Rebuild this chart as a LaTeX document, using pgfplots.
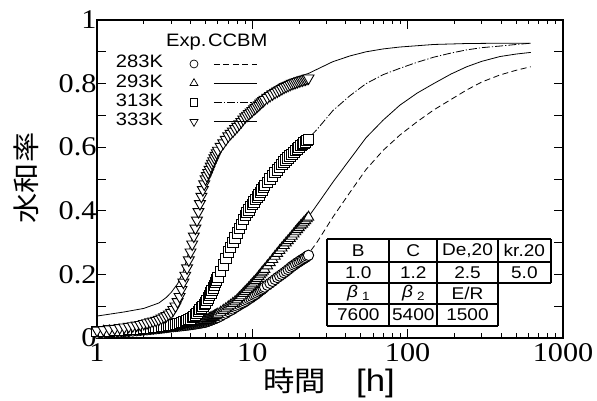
\documentclass[border=0pt]{standalone}
\usepackage{pgfplots}
\pgfplotsset{compat=1.18}
\usepackage{pgfplotstable}
\usepackage{fontspec}
\setmainfont{Liberation Serif}[FakeStretch=1.12]
\newfontfamily\arial{Liberation Sans}[FakeStretch=1.12]
\newfontfamily\jp{Noto Sans CJK JP}[FakeStretch=1.12]

% experimental data (Exp.), 283K
\pgfplotstableread{
t v
1.0 0.015
1.1 0.016
1.2 0.017
1.3 0.018
1.4 0.019
1.5 0.020
1.6 0.021
1.7 0.022
1.8 0.023
1.9 0.024
2.0 0.025
2.1 0.026
2.2 0.027
2.3 0.028
2.4 0.029
2.5 0.030
2.6 0.031
2.7 0.032
2.8 0.033
2.9 0.034
3.0 0.035
3.1 0.0357
3.2 0.0364
3.3 0.0371
3.4 0.0378
3.5 0.0385
3.6 0.0392
3.7 0.0399
3.8 0.0406
3.9 0.0413
4.0 0.042
4.1 0.0428
4.2 0.0436
4.3 0.0444
4.4 0.0452
4.5 0.046
4.6 0.0468
4.7 0.0476
4.8 0.0484
4.9 0.0492
5.0 0.050
5.1 0.0515
5.2 0.053
5.3 0.0545
5.4 0.056
5.5 0.0575
5.6 0.059
5.7 0.0605
5.8 0.062
5.9 0.0635
6.0 0.065
6.25 0.069
6.5 0.074
6.75 0.078
7.0 0.083
7.25 0.087
7.5 0.091
7.75 0.096
8.0 0.100
8.25 0.104
8.5 0.108
8.75 0.111
9.0 0.115
9.25 0.119
9.5 0.123
9.75 0.126
10 0.130
10.25 0.134
10.5 0.137
10.75 0.141
11 0.145
11.25 0.149
11.5 0.152
11.75 0.156
12 0.160
12.5 0.166
13 0.172
13.5 0.178
14 0.184
14.5 0.190
15 0.195
15.5 0.200
16 0.205
16.5 0.210
17 0.215
17.5 0.220
18 0.225
18.5 0.229
19 0.233
19.5 0.237
20 0.240
20.5 0.244
21 0.247
21.5 0.250
22 0.253
22.5 0.257
23 0.260
}\expA

% 293K
\pgfplotstableread{
t v
1.0 0.020
1.1 0.021
1.2 0.022
1.3 0.023
1.4 0.024
1.5 0.025
1.6 0.026
1.7 0.027
1.8 0.028
1.9 0.029
2.0 0.030
2.1 0.0308
2.2 0.0316
2.3 0.0324
2.4 0.0332
2.5 0.034
2.6 0.0348
2.7 0.0356
2.8 0.0364
2.9 0.0372
3.0 0.038
3.1 0.0388
3.2 0.0396
3.3 0.0404
3.4 0.0412
3.5 0.042
3.6 0.0428
3.7 0.0436
3.8 0.0444
3.9 0.0452
4.0 0.046
4.1 0.0469
4.2 0.0478
4.3 0.0487
4.4 0.0496
4.5 0.0505
4.6 0.0514
4.7 0.0523
4.8 0.0532
4.9 0.0541
5.0 0.055
5.1 0.057
5.2 0.059
5.3 0.061
5.4 0.063
5.5 0.065
5.6 0.067
5.7 0.069
5.8 0.071
5.9 0.073
6.0 0.075
6.25 0.081
6.5 0.087
6.75 0.092
7.0 0.098
7.25 0.103
7.5 0.109
7.75 0.114
8.0 0.120
8.25 0.127
8.5 0.133
8.75 0.140
9.0 0.146
9.25 0.152
9.5 0.158
9.75 0.164
10 0.170
10.25 0.176
10.5 0.181
10.75 0.187
11 0.193
11.25 0.199
11.5 0.205
11.75 0.210
12 0.216
12.5 0.227
13 0.237
13.5 0.247
14 0.257
14.5 0.266
15 0.275
15.5 0.283
16 0.291
16.5 0.299
17 0.306
17.5 0.313
18 0.320
18.5 0.327
19 0.334
19.5 0.341
20 0.347
20.5 0.353
21 0.358
21.5 0.364
22 0.369
22.5 0.375
23 0.380
}\expB

% 313K
\pgfplotstableread{
t v
1.0 0.020
1.1 0.021
1.2 0.022
1.3 0.023
1.4 0.024
1.5 0.025
1.6 0.026
1.7 0.027
1.8 0.028
1.9 0.029
2.0 0.030
2.1 0.031
2.2 0.032
2.3 0.033
2.4 0.034
2.5 0.035
2.6 0.036
2.7 0.037
2.8 0.038
2.9 0.039
3.0 0.040
3.1 0.0415
3.2 0.043
3.3 0.0445
3.4 0.046
3.5 0.048
3.6 0.050
3.7 0.0525
3.8 0.055
3.9 0.0575
4.0 0.060
4.1 0.064
4.2 0.068
4.3 0.073
4.4 0.078
4.5 0.084
4.6 0.090
4.7 0.095
4.8 0.100
4.9 0.105
5.0 0.110
5.1 0.118
5.2 0.126
5.3 0.134
5.4 0.142
5.5 0.150
5.6 0.158
5.7 0.166
5.8 0.174
5.9 0.182
6.0 0.190
6.25 0.210
6.5 0.230
6.75 0.250
7.0 0.270
7.25 0.285
7.5 0.300
7.75 0.315
8.0 0.330
8.25 0.344
8.5 0.358
8.75 0.372
9.0 0.385
9.25 0.394
9.5 0.403
9.75 0.412
10 0.420
10.25 0.428
10.5 0.435
10.75 0.443
11 0.450
11.25 0.458
11.5 0.465
11.75 0.473
12 0.480
12.5 0.490
13 0.500
13.5 0.510
14 0.520
14.5 0.529
15 0.537
15.5 0.545
16 0.553
16.5 0.560
17 0.566
17.5 0.572
18 0.578
18.5 0.584
19 0.589
19.5 0.595
20 0.600
20.5 0.605
21 0.609
21.5 0.613
22 0.617
22.5 0.621
23 0.625
}\expC

% 333K
\pgfplotstableread{
t v
1.0 0.024
1.1 0.026
1.2 0.028
1.3 0.030
1.4 0.032
1.5 0.034
1.6 0.036
1.7 0.038
1.8 0.040
1.9 0.042
2.0 0.045
2.1 0.0475
2.2 0.050
2.3 0.0525
2.4 0.055
2.5 0.058
2.6 0.062
2.7 0.066
2.8 0.070
2.9 0.075
3.0 0.080
3.1 0.089
3.2 0.100
3.3 0.114
3.4 0.130
3.5 0.152
3.6 0.175
3.7 0.197
3.8 0.220
3.9 0.245
4.0 0.270
4.1 0.295
4.2 0.320
4.3 0.345
4.4 0.370
4.5 0.397
4.6 0.422
4.7 0.445
4.8 0.466
4.9 0.484
5.0 0.500
5.1 0.510
5.2 0.520
5.3 0.530
5.4 0.540
5.5 0.549
5.6 0.557
5.7 0.566
5.8 0.574
5.9 0.582
6.0 0.590
6.25 0.602
6.5 0.613
6.75 0.624
7.0 0.635
7.25 0.643
7.5 0.650
7.75 0.658
8.0 0.665
8.25 0.673
8.5 0.680
8.75 0.688
9.0 0.695
9.25 0.700
9.5 0.705
9.75 0.710
10 0.715
10.25 0.720
10.5 0.724
10.75 0.729
11 0.733
11.25 0.738
11.5 0.742
11.75 0.746
12 0.750
12.5 0.756
13 0.762
13.5 0.767
14 0.772
14.5 0.776
15 0.780
15.5 0.784
16 0.788
16.5 0.791
17 0.794
17.5 0.797
18 0.800
18.5 0.802
19 0.804
19.5 0.806
20 0.808
20.5 0.810
21 0.811
21.5 0.813
22 0.814
22.5 0.816
23 0.817
}\expD

% model curves (CCBM)
\pgfplotstableread{
t v
1 0.015
2 0.025
3 0.035
4 0.042
5 0.050
6 0.065
8 0.100
10 0.130
12.4 0.165
15 0.195
18 0.225
20 0.240
23 0.265
26 0.300
33 0.380
42.5 0.458
54 0.530
69.5 0.590
89 0.638
115 0.680
147 0.717
190 0.750
240 0.780
300 0.805
392 0.827
500 0.842
620 0.853
}\modA

\pgfplotstableread{
t v
1 0.020
3 0.038
5 0.055
6 0.075
8 0.120
10 0.170
12.4 0.225
15 0.275
18 0.320
20 0.347
23 0.381
28 0.440
33 0.490
42.5 0.562
54 0.630
69.5 0.685
89 0.732
115 0.770
147 0.800
190 0.830
240 0.853
300 0.870
392 0.885
500 0.893
620 0.898
}\modB

\pgfplotstableread{
t v
1 0.020
2 0.030
3 0.040
4 0.060
5 0.110
6 0.190
7 0.270
8 0.330
10 0.420
12 0.480
14 0.520
16 0.553
18 0.578
20 0.600
23 0.628
26 0.655
33 0.715
42.5 0.762
54 0.800
69.5 0.828
89 0.848
115 0.867
147 0.883
190 0.896
240 0.906
300 0.913
392 0.918
500 0.923
620 0.927
}\modC

\pgfplotstableread{
t v
1 0.069
1.5 0.082
2 0.093
2.5 0.110
2.8 0.128
3.0 0.143
3.3 0.170
3.6 0.210
4.0 0.290
4.5 0.400
5 0.480
6 0.580
7 0.640
8 0.680
10 0.735
12 0.770
15 0.800
18 0.815
23 0.832
33 0.869
42.5 0.887
54 0.900
69.5 0.909
89 0.915
147 0.923
240 0.926
400 0.927
620 0.927
}\modD

\tikzset{
  dashA/.style={dash pattern=on 6pt off 3.5pt},
  dashC/.style={dash pattern=on 8pt off 2pt on 1.2pt off 2pt},
  expmark/.style={mark options={solid,fill=white,draw=black,line width=0.9pt}},
  expmarkdown/.style={mark options={solid,fill=white,draw=black,line width=0.9pt,rotate=180}},
  legmark/.style={mark options={solid,fill=white,draw=black,line width=0.7pt}},
}

\begin{document}
\begin{tikzpicture}
\begin{axis}[
  scale only axis, width=466pt, height=318pt,
  xmode=log, xmin=1, xmax=1000, ymin=0, ymax=1,
  log ticks with fixed point,
  xtick={1,10,100,1000}, xticklabels={1,10,100,1000},
  ytick={0,0.1,...,1.01},
  yticklabels={0,,0.2,,0.4,,0.6,,0.8,,1},
  tick align=inside,
  major tick length=9pt, minor tick length=4.5pt,
  every tick/.style={black,line width=0.9pt},
  axis line style={line width=1.8pt},
  tick label style={font=\fontsize{27}{27}\selectfont},
  xticklabel style={inner sep=0pt,yshift=-5pt},
  yticklabel style={xshift=3pt},
  /pgf/number format/assume math mode=true,
  xlabel={{\jp\fontsize{28}{28}\selectfont 時間}\hspace{30pt}{\arial\fontsize{31}{31}\selectfont [h]}},
  xlabel style={at={(axis description cs:0.498,-0.1415)},anchor=center},
  ylabel={\jp 水和率},
  ylabel style={at={(axis description cs:-0.152,0.503)},anchor=center,font=\fontsize{27}{27}\selectfont},
  legend plot pos=right,
  legend cell align=left,
  legend style={draw=none,fill=none,at={(axis description cs:0.0337,0.899)},anchor=north west,
    font=\arial\fontsize{18}{18}\selectfont,row sep=0pt,column sep=0pt,
    nodes={inner sep=0pt,text height=13.5pt,text depth=5.8pt}},
]
% CCBM model lines
\addplot[forget plot,black,line width=0.8pt,dashA] table[x=t,y=v] {\modA};
\addplot[forget plot,black,line width=0.8pt] table[x=t,y=v] {\modB};
\addplot[forget plot,black,line width=0.8pt,dashC] table[x=t,y=v] {\modC};
\addplot[forget plot,black,line width=0.8pt] table[x=t,y=v] {\modD};
% experimental points
\addplot[forget plot,only marks,mark=*,mark size=5.2pt,expmark] table[x=t,y=v] {\expA};
\addplot[forget plot,only marks,mark=triangle*,mark size=6pt,expmark] table[x=t,y=v] {\expB};
\addplot[forget plot,only marks,mark=square*,mark size=5.2pt,expmark] table[x=t,y=v] {\expC};
\addplot[forget plot,only marks,mark=triangle*,mark size=6.3pt,expmarkdown] table[x=t,y=v] {\expD};

\addlegendimage{legend image code/.code={
  \path[draw=none,fill=none] (0pt,-7pt) rectangle (96pt,7pt);
  \draw[mark=*,mark size=4pt,legmark] plot coordinates {(31pt,0pt)};
  \draw[line width=0.8pt,dashA] (51pt,0pt) -- (94pt,0pt);}}
\addlegendentry{283K}
\addlegendimage{legend image code/.code={
  \path[draw=none,fill=none] (0pt,-7pt) rectangle (96pt,7pt);
  \draw[mark=triangle*,mark size=4.6pt,legmark] plot coordinates {(31pt,0pt)};
  \draw[line width=0.8pt] (51pt,0pt) -- (94pt,0pt);}}
\addlegendentry{293K}
\addlegendimage{legend image code/.code={
  \path[draw=none,fill=none] (0pt,-7pt) rectangle (96pt,7pt);
  \draw[mark=square*,mark size=3.8pt,legmark] plot coordinates {(31pt,0pt)};
  \draw[line width=0.8pt,dashC] (51pt,0pt) -- (94pt,0pt);}}
\addlegendentry{313K}
\addlegendimage{legend image code/.code={
  \path[draw=none,fill=none] (0pt,-7pt) rectangle (96pt,7pt);
  \draw[mark=triangle*,mark size=4.6pt,mark options={solid,fill=white,draw=black,line width=0.7pt,rotate=180}] plot coordinates {(31pt,0pt)};
  \draw[line width=0.8pt] (51pt,0pt) -- (94pt,0pt);}}
\addlegendentry{333K}
\end{axis}

% legend header
\node[anchor=west,inner sep=0pt,font=\arial\fontsize{18}{18}\selectfont] at (69pt,296pt) {Exp.\hspace{1.5pt}CCBM};

% parameter table
\begin{scope}[font=\arial\fontsize{17}{17}\selectfont]
\fill[white] (230.3pt,12.3pt) rectangle (400.7pt,99pt);
\fill[white] (400.7pt,55.3pt) rectangle (454pt,99pt);
\draw[line width=1.8pt]
  (230.3pt,99pt) -- (454pt,99pt)
  (230.3pt,75.7pt) -- (454pt,75.7pt)
  (230.3pt,55.3pt) -- (454pt,55.3pt)
  (230.3pt,34pt) -- (400.7pt,34pt)
  (230.3pt,12.3pt) -- (400.7pt,12.3pt)
  (230.3pt,12.3pt) -- (230.3pt,99pt)
  (292.3pt,12.3pt) -- (292.3pt,99pt)
  (340.3pt,12.3pt) -- (340.3pt,99pt)
  (400.7pt,12.3pt) -- (400.7pt,99pt)
  (454pt,55.3pt) -- (454pt,99pt);
\node at (261.3pt,87.35pt) {B};
\node at (316.3pt,87.35pt) {C};
\node at (370.5pt,87.35pt) {De,20};
\node at (427.35pt,87.35pt) {kr.20};
\node at (261.3pt,65.5pt) {1.0};
\node at (316.3pt,65.5pt) {1.2};
\node at (370.5pt,65.5pt) {2.5};
\node at (427.35pt,65.5pt) {5.0};
\node at (261.3pt,44.65pt) {\itshape β\hspace{4pt}\raisebox{-3pt}{\upshape\fontsize{12}{12}\selectfont 1}};
\node at (316.3pt,44.65pt) {\itshape β\hspace{4pt}\raisebox{-3pt}{\upshape\fontsize{12}{12}\selectfont 2}};
\node at (370.5pt,44.65pt) {E/R};
\node at (261.3pt,23.15pt) {7600};
\node at (316.3pt,23.15pt) {5400};
\node at (370.5pt,23.15pt) {1500};
\end{scope}

\pgfresetboundingbox
\path (-97pt,-63pt) rectangle (500pt,338pt);
\end{tikzpicture}
\end{document}
